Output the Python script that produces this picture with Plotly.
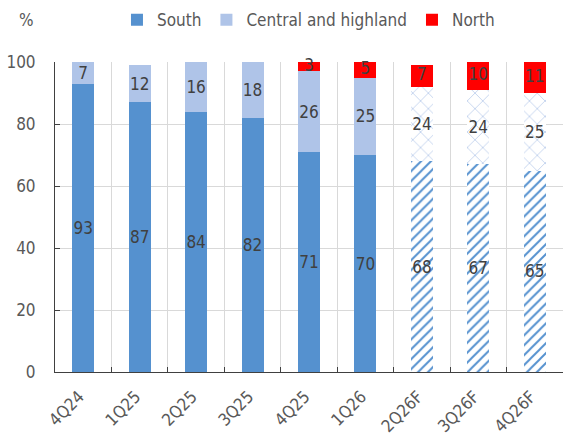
import plotly.graph_objects as go

# Regional share by quarter (%), forecasts marked with "F"
quarters = ["4Q24", "1Q25", "2Q25", "3Q25", "4Q25", "1Q26", "2Q26F", "3Q26F", "4Q26F"]
south = [93, 87, 84, 82, 71, 70, 68, 67, 65]
central = [7, 12, 16, 18, 26, 25, 24, 24, 25]
north = [0, 0, 0, 0, 3, 5, 7, 10, 11]

FONT = "DejaVu Sans Condensed, DejaVu Sans, sans-serif"
LABEL_FONT = dict(family=FONT, size=17, color="#404040")
forecast = [q.endswith("F") for q in quarters]
YMAX = 100


def labels(vals):
    return [str(v) if v > 0 else "" for v in vals]


fig = go.Figure()

fig.add_trace(go.Bar(
    name="South", x=quarters, y=south,
    text=labels(south),
    marker=dict(
        color="#5591CF", line=dict(width=0),
        pattern=dict(shape=["/" if f else "" for f in forecast],
                     bgcolor="white", size=7, solidity=0.28, fillmode="replace"),
    ),
))
fig.add_trace(go.Bar(
    name="Central and highland", x=quarters, y=central,
    text=labels(central),
    marker=dict(
        color="#AFC4E8", line=dict(width=0),
        pattern=dict(shape=["x" if f else "" for f in forecast],
                     bgcolor="white", size=11, solidity=0.12, fillmode="replace"),
    ),
))
fig.add_trace(go.Bar(
    name="North", x=quarters, y=north,
    marker=dict(color="#FF0000", line=dict(width=0)),
))

fig.update_traces(
    textposition="inside", insidetextanchor="middle", textangle=0,
    constraintext="none", cliponaxis=False,
    textfont=LABEL_FONT,
)

# North labels sit in the middle of the visible part of the top segment
north_y = []
for s, c, n in zip(south, central, north):
    base = s + c
    top = min(base + n, YMAX)
    north_y.append((base + top) / 2)
fig.add_trace(go.Scatter(
    x=quarters, y=north_y, text=labels(north), mode="text",
    textposition="middle center", textfont=LABEL_FONT,
    showlegend=False, hoverinfo="skip", cliponaxis=False,
))

fig.update_layout(
    width=564, height=435,
    margin=dict(l=55, r=1, t=62, b=63),
    barmode="stack", bargap=0.61,
    plot_bgcolor="white", paper_bgcolor="white",
    font=dict(family=FONT, size=17, color="#595959"),
    uniformtext=dict(mode="show", minsize=17),
    showlegend=True,
    legend=dict(orientation="h", traceorder="normal",
                x=0.122, xanchor="left", y=1.135, yanchor="middle",
                font=dict(family=FONT, size=17, color="#595959"),
                itemwidth=30, bgcolor="rgba(0,0,0,0)"),
    xaxis=dict(
        type="category", tickson="boundaries", ticks="inside", ticklen=5,
        tickcolor="#404040", showline=True, linecolor="#404040", linewidth=1,
        showgrid=True, gridcolor="#D9D9D9", gridwidth=1,
        tickangle=-45, tickfont=dict(family=FONT, size=17, color="#595959"),
        ticklabelstandoff=7, ticklabelshift=-4, automargin=False,
    ),
    yaxis=dict(
        range=[0, YMAX], dtick=20, ticks="inside", ticklen=5,
        tickcolor="#404040", showline=True, linecolor="#404040", linewidth=1,
        showgrid=True, gridcolor="#D9D9D9", gridwidth=1, zeroline=False,
        tickfont=dict(family=FONT, size=17, color="#595959"),
        ticklabelstandoff=15, automargin=False,
    ),
    annotations=[dict(text="%", xref="paper", yref="paper", x=-0.057, y=1.135,
                      xanchor="center", yanchor="middle", showarrow=False,
                      font=dict(family=FONT, size=17, color="#595959"))],
)

fig.write_html("out.html")
